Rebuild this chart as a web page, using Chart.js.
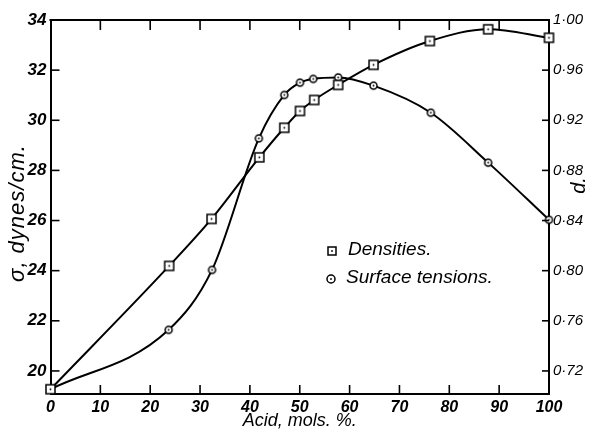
<!DOCTYPE html>
<html>
<head>
<meta charset="utf-8">
<script src="https://cdn.jsdelivr.net/npm/chart.js@4.4.0/dist/chart.umd.min.js"></script>
<style>
html,body{margin:0;padding:0;background:#fff;}
#wrap{width:596px;height:432px;position:relative;}
</style>
</head>
<body>
<div id="wrap"><canvas id="c" width="596" height="432"></canvas></div>
<script>
// ---- data ----
const acidDensity = [0, 23.8, 32.3, 41.9, 46.9, 50.05, 52.9, 57.7, 64.8, 76.1, 87.8, 100];
const densities   = [0.7054, 0.8038, 0.8413, 0.8904, 0.9140, 0.9274, 0.9362, 0.9482, 0.9642, 0.9832, 0.9926, 0.9858];
const acidSigma   = [0, 23.7, 32.4, 41.8, 46.9, 50.05, 52.7, 57.7, 64.8, 76.3, 87.8, 100];
const surfaceTensions = [19.27, 21.64, 24.03, 29.28, 31.01, 31.50, 31.65, 31.71, 31.38, 30.30, 28.31, 26.03];

const xTicks = [0, 10, 20, 30, 40, 50, 60, 70, 80, 90, 100];
const sigmaTicks = [20, 22, 24, 26, 28, 30, 32, 34];
const densityTicks = [0.72, 0.76, 0.80, 0.84, 0.88, 0.92, 0.96, 1.00];

const seriesNames = ['Densities.', 'Surface tensions.'];
const xTitle = 'Acid, mols. %.';
const sigmaTitle = 'σ, dynes/cm.';
const densityTitle = 'd.';

const FAM = '"Liberation Sans", Arial, sans-serif';

function makeMarker(kind, size) {
  const s = size + 4;
  const c = document.createElement('canvas');
  c.width = s; c.height = s;
  const g = c.getContext('2d');
  const m = s / 2;
  g.fillStyle = '#fff'; g.strokeStyle = '#000'; g.lineWidth = 1.5;
  if (kind === 'square') {
    g.fillRect(m - size / 2, m - size / 2, size, size);
    g.strokeRect(m - size / 2, m - size / 2, size, size);
  } else {
    g.beginPath(); g.arc(m, m, size / 2, 0, Math.PI * 2); g.fill(); g.stroke();
  }
  g.fillStyle = '#000';
  g.beginPath(); g.arc(m, m, 0.9, 0, Math.PI * 2); g.fill();
  return c;
}
const squareMarker = makeMarker('square', 9);
const circleMarker = makeMarker('circle', 7);
const squareLegend = makeMarker('square', 8);
const circleLegend = makeMarker('circle', 8);

const bgPlugin = {
  id: 'bg',
  beforeDraw(chart) {
    const ctx = chart.ctx;
    ctx.save(); ctx.fillStyle = '#fff';
    ctx.fillRect(0, 0, chart.width, chart.height); ctx.restore();
  }
};

const framePlugin = {
  id: 'frame',
  afterDraw(chart) {
    const {ctx, chartArea: a, scales} = chart;
    const x = scales.x, ys = scales.ySigma, yd = scales.yDensity;
    ctx.save();
    ctx.strokeStyle = '#000';
    const line = (x1, y1, x2, y2, w) => {
      ctx.lineWidth = w; ctx.beginPath(); ctx.moveTo(x1, y1); ctx.lineTo(x2, y2); ctx.stroke();
    };
    line(a.left - 1, a.top, a.right + 1, a.top, 2);
    xTicks.forEach(v => {
      if (v <= x.min || v >= x.max) return;
      const px = x.getPixelForValue(v);
      line(px, a.bottom, px, a.bottom - 9, 1.6);
      line(px, a.top, px, a.top + 10, 1.6);
    });
    sigmaTicks.forEach(v => {
      if (v >= ys.max) return;
      const py = ys.getPixelForValue(v);
      line(a.left, py, a.left + 9, py, 1.6);
    });
    densityTicks.forEach(v => {
      if (v >= yd.max - 0.001) return;
      const py = yd.getPixelForValue(v);
      line(a.right - 7, py, a.right, py, 1.6);
    });
    ctx.fillStyle = '#000';
    ctx.textAlign = 'center'; ctx.textBaseline = 'middle';
    // left axis title
    ctx.save();
    ctx.font = 'italic 22px ' + FAM;
    try { ctx.letterSpacing = '1px'; } catch (e) {}
    ctx.translate(18, ys.getPixelForValue(26.3));
    ctx.rotate(-Math.PI / 2);
    ctx.fillText(sigmaTitle, 0, 0);
    ctx.restore();
    // right axis title
    ctx.save();
    ctx.font = 'italic 20px ' + FAM;
    ctx.translate(579, yd.getPixelForValue(0.868));
    ctx.rotate(-Math.PI / 2);
    ctx.fillText(densityTitle, 0, 0);
    ctx.restore();
    ctx.restore();

    // legend
    ctx.save();
    ctx.fillStyle = '#000';
    ctx.font = 'italic 19px ' + FAM;
    ctx.textAlign = 'left'; ctx.textBaseline = 'middle';
    ctx.drawImage(squareLegend, 332 - squareLegend.width / 2, 251 - squareLegend.height / 2);
    ctx.fillText(seriesNames[0], 348, 250);
    ctx.drawImage(circleLegend, 331 - circleLegend.width / 2, 279 - circleLegend.height / 2);
    ctx.fillText(seriesNames[1], 346, 278);
    ctx.restore();
  }
};

const tickFont = {family: FAM, size: 17, style: 'italic', weight: 'bold'};

new Chart(document.getElementById('c'), {
  type: 'line',
  data: {
    datasets: [
      {
        label: seriesNames[0],
        data: acidDensity.map((a, i) => ({x: a, y: densities[i]})),
        yAxisID: 'yDensity',
        borderColor: '#000', borderWidth: 2,
        cubicInterpolationMode: 'monotone',
        pointStyle: squareMarker, pointRadius: 4,
        clip: false, fill: false
      },
      {
        label: seriesNames[1],
        data: acidSigma.map((a, i) => ({x: a, y: surfaceTensions[i]})),
        yAxisID: 'ySigma',
        borderColor: '#000', borderWidth: 2,
        cubicInterpolationMode: 'monotone',
        pointStyle: circleMarker, pointRadius: 4,
        clip: false, fill: false
      }
    ]
  },
  options: {
    responsive: false,
    animation: false,
    devicePixelRatio: 1,
    layout: {padding: {top: 20, left: 0, right: 0, bottom: 0}},
    plugins: {legend: {display: false}, tooltip: {enabled: false}},
    scales: {
      x: {
        type: 'linear', position: 'bottom', min: 0, max: 100,
        afterBuildTicks: s => { s.ticks = xTicks.map(v => ({value: v})); },
        afterFit: s => { s.height = 38; },
        grid: {display: false, drawTicks: false},
        border: {display: true, color: '#000', width: 2},
        ticks: {padding: 4, color: '#000', font: {family: FAM, size: 16, style: 'italic', weight: 'bold'},
                maxRotation: 0, autoSkip: false, callback: v => String(v)},
        title: {display: true, text: xTitle, color: '#000',
                font: {family: FAM, size: 18, style: 'italic'}, padding: {top: 0, bottom: 0}}
      },
      ySigma: {
        type: 'linear', position: 'left', min: 19.08, max: 34,
        afterBuildTicks: s => { s.ticks = sigmaTicks.map(v => ({value: v})); },
        afterFit: s => { s.width = 50.5; },
        grid: {display: false, drawTicks: false},
        border: {display: true, color: '#000', width: 2},
        ticks: {padding: 4, color: '#000', font: tickFont, autoSkip: false,
                callback: v => String(v)},
        title: {display: false, text: sigmaTitle}
      },
      yDensity: {
        type: 'linear', position: 'right', min: 0.7016, max: 1.0,
        afterBuildTicks: s => { s.ticks = densityTicks.map(v => ({value: v})); },
        afterFit: s => { s.width = 47; },
        grid: {display: false, drawTicks: false},
        border: {display: true, color: '#000', width: 2},
        ticks: {padding: 4, color: '#000', font: {family: FAM, size: 15, style: 'italic'},
                autoSkip: false, callback: v => v.toFixed(2).replace('.', '·')},
        title: {display: false, text: densityTitle}
      }
    }
  },
  plugins: [bgPlugin, framePlugin]
});
</script>
</body>
</html>
